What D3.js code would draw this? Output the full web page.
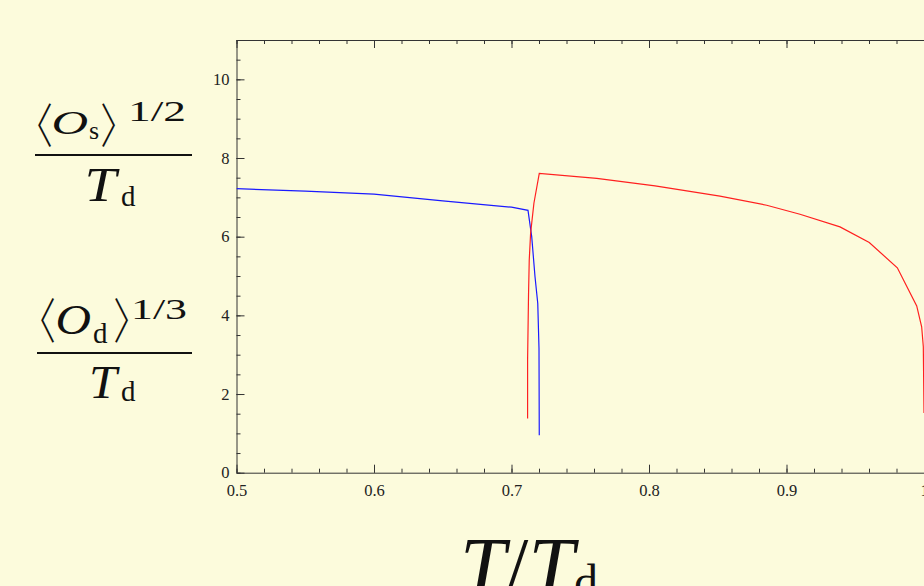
<!DOCTYPE html>
<meta charset="utf-8">
<style>
body { margin: 0; background: #fcfbdc; }
svg { display: block; background: #fcfbdc; }
.axis path, .axis line { stroke: #333; stroke-width: 1; }
.lbl { font-family: "Liberation Serif", "DejaVu Serif", serif; fill: #111; }
</style>
<svg width="924" height="586"></svg>
<script src="https://d3js.org/d3.v7.min.js"></script>
<script>

// data
var xTicks = [0.5, 0.6, 0.7, 0.8, 0.9, 1.0];
var yTicks = [0, 2, 4, 6, 8, 10];

// blue branch
var blueT = [0.5, 0.55, 0.6, 0.65, 0.7, 0.712, 0.7147, 0.7171, 0.7191, 0.72, 0.7202];
var blueV = [7.22, 7.16, 7.08, 6.91, 6.75, 6.67, 6.00, 4.98, 4.30, 3.16, 0.95];

// red branch
var redT = [0.7117, 0.7117, 0.7124, 0.7129, 0.7139, 0.7163, 0.7202, 0.762, 0.8044, 0.8516,
            0.8856, 0.9098, 0.9389, 0.9602, 0.9806, 0.9947, 0.9983, 0.9995, 1.0];
var redV = [1.38, 2.86, 4.56, 5.40, 6.09, 6.85, 7.61, 7.48, 7.29, 7.03,
            6.80, 6.57, 6.25, 5.85, 5.21, 4.24, 3.71, 3.20, 1.52];

var svg = d3.select("svg");

var x = d3.scaleLinear().domain([0.5, 1.0]).range([236.5, 924]);
var y = d3.scaleLinear().domain([0, 11]).range([472.7, 40]);

var minorX = d3.range(0.5, 1.0001, 0.02);
var minorY = d3.range(0, 11.0001, 0.5);

// frame with inward ticks
function drawAxis(axisFn, scale, pos, major, minor, labels) {
  var g = svg.append("g").attr("class", "axis").attr("transform", pos);
  g.call(axisFn(scale).tickValues(minor).tickSizeInner(-4).tickSizeOuter(0).tickFormat(""));
  var g2 = svg.append("g").attr("class", "axis").attr("transform", pos);
  var a = axisFn(scale).tickValues(major).tickSizeInner(-8).tickSizeOuter(0);
  if (labels) a.tickFormat(d3.format("")).tickPadding(labels); else a.tickFormat("");
  g2.call(a);
  g2.select(".domain").remove();
  g2.selectAll("text")
    .style("font-family", "'Liberation Serif', serif")
    .style("font-size", "16.5px")
    .style("fill", "#222");
}

drawAxis(d3.axisBottom, x, "translate(0,472.7)", xTicks, minorX, 12);
drawAxis(d3.axisTop, x, "translate(0,40)", xTicks, minorX, 0);
drawAxis(d3.axisLeft, y, "translate(236.5,0)", yTicks, minorY, 7);

svg.append("clipPath").attr("id", "clip")
  .append("rect").attr("x", 236.5).attr("y", 40).attr("width", 924 - 236.5).attr("height", 472.7 - 40);

var line = d3.line()
  .x(function(d) { return x(d[0]); })
  .y(function(d) { return y(d[1]); });

var blue = blueT.map(function(t, i) { return [t, blueV[i]]; });
var red = redT.map(function(t, i) { return [t, redV[i]]; });

svg.append("path").datum(blue).attr("clip-path", "url(#clip)")
  .attr("d", line).attr("fill", "none").attr("stroke", "#1a1aff").attr("stroke-width", 1.2);
svg.append("path").datum(red).attr("clip-path", "url(#clip)")
  .attr("d", line).attr("fill", "none").attr("stroke", "#ff2020").attr("stroke-width", 1.2);

// fit a glyph's ink into a box (measured with a canvas)
var ctx = document.createElement("canvas").getContext("2d");
function fit(str, family, style, L, T, R, B) {
  var F = 100;
  ctx.font = style + " " + F + "px " + family;
  var m = ctx.measureText(str);
  var left = -m.actualBoundingBoxLeft, right = m.actualBoundingBoxRight;
  var asc = m.actualBoundingBoxAscent, desc = m.actualBoundingBoxDescent;
  var sy = (B - T) / (asc + desc);
  var sx = R == null ? sy : (R - L) / (right - left);
  return svg.append("text").attr("class", "lbl")
    .attr("transform", "translate(" + (L - left * sx) + "," + (T + asc * sy) + ") scale(" + sx + "," + sy + ")")
    .style("font-family", family).style("font-style", style.indexOf("italic") >= 0 ? "italic" : "normal")
    .style("font-weight", style.indexOf("300") >= 0 ? 300 : 400)
    .attr("font-size", F).text(str);
}
function put(str, left, base, size, len, adj) {
  var t = svg.append("text").attr("class", "lbl").attr("x", left).attr("y", base)
    .attr("font-size", size).text(str);
  if (len) t.attr("textLength", len).attr("lengthAdjust", adj || "spacing");
  return t;
}

var bf = "'Noto Sans CJK JP', 'DejaVu Sans', sans-serif";
var sf = "'Liberation Serif', serif";

// y labels (two fractions)
fit("\u3008", bf, "300", 38, 103, 51, 147);
fit("O", sf, "italic", 54, 112, 87, 135);
put("s", 89, 139, 26);
fit("\u3009", bf, "300", 102, 103, 115, 147);
put("1/2", 128, 121, 29, 58, "spacingAndGlyphs");
svg.append("line").attr("x1", 35).attr("x2", 192).attr("y1", 155).attr("y2", 155)
  .attr("stroke", "#111").attr("stroke-width", 2);
fit("T", sf, "italic", 88, 170, 120, 201.5);
put("d", 121, 206, 29);

fit("\u3008", bf, "300", 41, 298, 54, 343);
fit("O", sf, "italic", 58, 307, 90, 335);
put("d", 93, 343, 29);
fit("\u3009", bf, "300", 115, 298, 128, 343);
put("1/3", 131, 319, 29, 56, "spacingAndGlyphs");
svg.append("line").attr("x1", 37).attr("x2", 192).attr("y1", 353).attr("y2", 353)
  .attr("stroke", "#111").attr("stroke-width", 2);
fit("T", sf, "italic", 92, 368, 120, 398);
put("d", 121, 401, 29);

// x label
var xl = svg.append("text").attr("class", "lbl").attr("x", 460).attr("y", 594).attr("font-size", 82);
xl.append("tspan").attr("font-style", "italic").text("T");
xl.append("tspan").text("/");
xl.append("tspan").attr("font-style", "italic").text("T");
xl.append("tspan").attr("font-size", 48).attr("dy", 4).text("d");

</script>
